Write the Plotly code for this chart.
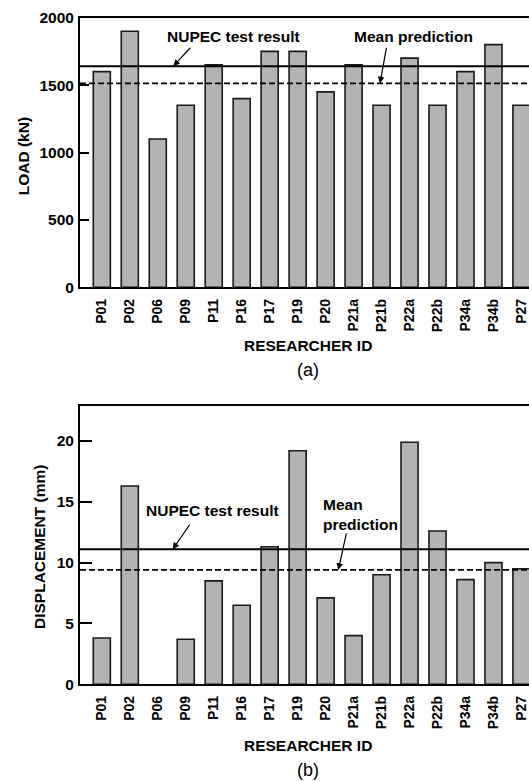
import plotly.graph_objects as go

# ---- data ----
researchers = ["P01", "P02", "P06", "P09", "P11", "P16", "P17", "P19", "P20",
               "P21a", "P21b", "P22a", "P22b", "P34a", "P34b", "P27"]
load_kn = [1600, 1900, 1100, 1350, 1650, 1400, 1750, 1750, 1450,
           1650, 1350, 1700, 1350, 1600, 1800, 1350]
disp_mm = [3.8, 16.3, None, 3.7, 8.5, 6.5, 11.3, 19.2, 7.1,
           4.0, 9.0, 19.9, 12.6, 8.6, 10.0, 9.5]
load_test = 1640
load_mean = 1513
disp_test = 11.1
disp_mean = 9.4
load_ticks = [0, 500, 1000, 1500, 2000]
disp_ticks = [0, 5, 10, 15, 20]

W, H = 529, 781
def px(x):
    return x / W
def py(y):
    return 1 - y / H

FONT = "Liberation Sans, Arial, Helvetica, sans-serif"
BAR_FILL = "#b3b3b3"

fig = go.Figure()
fig.add_trace(go.Bar(x=researchers, y=load_kn, xaxis="x", yaxis="y",
                     marker=dict(color=BAR_FILL, line=dict(color="#1a1a1a", width=1.6)),
                     showlegend=False))
fig.add_trace(go.Bar(x=researchers, y=disp_mm, xaxis="x2", yaxis="y2",
                     marker=dict(color=BAR_FILL, line=dict(color="#1a1a1a", width=1.6)),
                     showlegend=False))

xcommon = dict(type="category", range=[-0.78, 15.27], showline=True, linewidth=2,
               linecolor="black", mirror=True, ticks="", showgrid=False,
               zeroline=False, tickangle=-90, automargin=False,
               tickfont=dict(family=FONT, size=14, color="black", weight="bold"),
               ticklabelstandoff=4)
ycommon = dict(showline=True, linewidth=2, linecolor="black", mirror=False,
               ticks="inside", tickwidth=1.5, tickcolor="black", showgrid=False,
               zeroline=False, automargin=False,
               tickfont=dict(family=FONT, size=15.5, color="black", weight="bold"),
               ticklabelstandoff=1)

fig.update_layout(
    width=W, height=H,
    margin=dict(l=0, r=0, t=0, b=0),
    paper_bgcolor="white", plot_bgcolor="white",
    bargap=0.39,
    xaxis=dict(xcommon, domain=[px(80), 1], anchor="y"),
    yaxis=dict(ycommon, domain=[py(287.3), py(17.7)], anchor="x",
               range=[0, 2000], tickvals=load_ticks, ticklen=9),
    xaxis2=dict(xcommon, domain=[px(80), 1], anchor="y2"),
    yaxis2=dict(ycommon, domain=[py(684.3), py(405.7)], anchor="x2",
                range=[0, 22.9], tickvals=disp_ticks, ticklen=12),
)

# reference lines
for yref, val, dash in [("y", load_test, "solid"), ("y", load_mean, "6px,3px"),
                        ("y2", disp_test, "solid"), ("y2", disp_mean, "6px,3px")]:
    xr = "x domain" if yref == "y" else "x2 domain"
    fig.add_shape(type="line", xref=xr, x0=0, x1=1, yref=yref, y0=val, y1=val,
                  line=dict(color="black", width=1.8, dash=dash), layer="above")

def text_ann(text, x, y, size=15.5, bold=True, angle=0, align="center", xanchor="center"):
    fig.add_annotation(text=text, xref="paper", yref="paper", x=px(x), y=py(y),
                       xanchor=xanchor, yanchor="middle", showarrow=False,
                       textangle=angle, align=align,
                       font=dict(family=FONT, size=size, color="black",
                                 weight="bold" if bold else "normal"))

def arrow(x_head, yref, y_val, ax, ay):
    fig.add_annotation(text="", xref="paper", x=px(x_head), yref=yref, y=y_val,
                       showarrow=True, axref="pixel", ayref="pixel", ax=ax, ay=ay,
                       arrowhead=2, arrowsize=1.1, arrowwidth=1.2, arrowcolor="black",
                       standoff=0, startstandoff=0)

# panel (a)
text_ann("NUPEC test result", 233.3, 36.7)
text_ann("Mean prediction", 413, 36.7)
arrow(173.3, "y", load_test, 18.4, -20)
arrow(380, "y", load_mean, 6.7, -37)
text_ann("LOAD (kN)", 23.3, 156, angle=-90)
text_ann("RESEARCHER ID", 307.5, 345.3)
text_ann("(a)", 308.3, 370, size=18, bold=False)

# panel (b)
text_ann("NUPEC test result", 212.7, 510.7)
text_ann("Mean<br>prediction", 320.7, 514, align="left", xanchor="left")
arrow(172.7, "y2", disp_test, 18, -26)
arrow(338.3, "y2", disp_mean, 8.4, -38)
text_ann("DISPLACEMENT (mm)", 39.3, 546.7, angle=-90)
text_ann("RESEARCHER ID", 307.5, 745.7)
text_ann("(b)", 308.3, 770, size=18, bold=False)

fig.write_html("out.html", config={"displayModeBar": False},
               post_script="document.body.style.margin='0';document.body.style.overflow='hidden';")
